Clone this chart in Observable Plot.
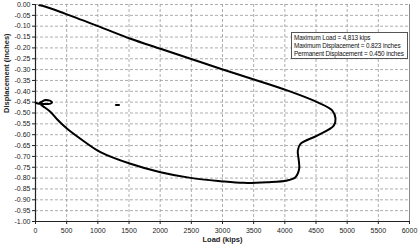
<!DOCTYPE html>
<html><head><meta charset="utf-8">
<script src="https://cdn.jsdelivr.net/npm/d3@7"></script>
<script src="https://cdn.jsdelivr.net/npm/@observablehq/plot@0.6"></script>
<style>
html,body{margin:0;padding:0;background:#fff;}
#wrap{position:relative;width:419px;height:251px;font-family:"Liberation Sans",Arial,sans-serif;}
#legend{position:absolute;left:291px;top:32px;width:117px;height:27px;border:1px solid #555;background:#fff;font-size:6.4px;letter-spacing:-0.15px;line-height:8px;padding:1px 0 0 2px;box-sizing:border-box;color:#111;white-space:nowrap;}
</style></head>
<body><div id="wrap"><div id="chart"></div><div id="legend"></div></div>
<script>
const load = [60,110,481,1043,1524,2005,2486,2967,3529,4037,4518,4759,4813,4785,4518,4251,4208,4224,4230,4170,4037,3716,3341,2967,2486,2005,1524,1042,775,508,350,241,150,90,60,110,160,230,265,240,160,60,0];
const disp = [-0.004,-0.006,-0.043,-0.104,-0.158,-0.204,-0.250,-0.296,-0.348,-0.396,-0.450,-0.488,-0.525,-0.558,-0.604,-0.642,-0.673,-0.719,-0.757,-0.796,-0.811,-0.819,-0.822,-0.814,-0.799,-0.773,-0.734,-0.680,-0.630,-0.573,-0.530,-0.495,-0.475,-0.462,-0.455,-0.447,-0.440,-0.443,-0.450,-0.457,-0.458,-0.458,-0.452];
const strayLoad = [1290,1340];
const strayDisp = [-0.463,-0.463];
const xTicks = [0,500,1000,1500,2000,2500,3000,3500,4000,4500,5000,5500,6000];
const yTicks = [0,-0.05,-0.10,-0.15,-0.20,-0.25,-0.30,-0.35,-0.40,-0.45,-0.50,-0.55,-0.60,-0.65,-0.70,-0.75,-0.80,-0.85,-0.90,-0.95,-1.00];
const legendLines = ["Maximum Load = 4,813 kips","Maximum Displacement = 0.823 inches","Permanent Displacement = 0.450 inches"];
const xTitle = "Load (kips)";
const yTitle = "Displacement (inches)";

const curve = load.map((v,i)=>({x:v,y:disp[i]}));
const stray = strayLoad.map((v,i)=>({x:v,y:strayDisp[i]}));

const chart = Plot.plot({
  width:419, height:251,
  marginLeft:35, marginRight:10, marginTop:4, marginBottom:30,
  style:{fontFamily:"'Liberation Sans',Arial,sans-serif", fontSize:"7px", color:"#222", background:"#fff"},
  x:{domain:[0,6000], ticks:xTicks, tickFormat:d=>String(d), tickSize:3, tickPadding:4, label:null},
  y:{domain:[-1,0], ticks:yTicks, tickFormat:d=>d.toFixed(2), tickSize:3, tickPadding:2, label:null},
  marks:[
    Plot.gridX(xTicks,{stroke:"#999", strokeOpacity:1, strokeDasharray:"3,2", strokeWidth:0.8}),
    Plot.gridY(yTicks,{stroke:"#999", strokeOpacity:1, strokeDasharray:"3,2", strokeWidth:0.8}),
    Plot.ruleX([6000],{stroke:"#888", strokeWidth:1}),
    Plot.ruleX([0],{stroke:"#222", strokeWidth:1.2}),
    Plot.ruleY([-1],{stroke:"#222", strokeWidth:1.2}),
    Plot.line(curve,{x:"x",y:"y",stroke:"#000",strokeWidth:2,curve:"catmull-rom"}),
    Plot.line(stray,{x:"x",y:"y",stroke:"#000",strokeWidth:2}),
    Plot.axisX({ticks:xTicks, tickFormat:d=>String(d), tickSize:3, tickPadding:4, label:null}),
    Plot.axisY({ticks:yTicks, tickFormat:d=>d.toFixed(2), tickSize:3, tickPadding:2, label:null}),
    Plot.text([xTitle],{frameAnchor:"bottom", dy:20, fontWeight:"bold", fontSize:7.5}),
    Plot.text([yTitle],{frameAnchor:"left", dx:-29, rotate:-90, fontWeight:"bold", fontSize:7.5})
  ]
});
document.getElementById("chart").appendChild(chart);
document.getElementById("legend").innerHTML = legendLines.map(s=>"<div>"+s+"</div>").join("");
</script>
</body></html>
